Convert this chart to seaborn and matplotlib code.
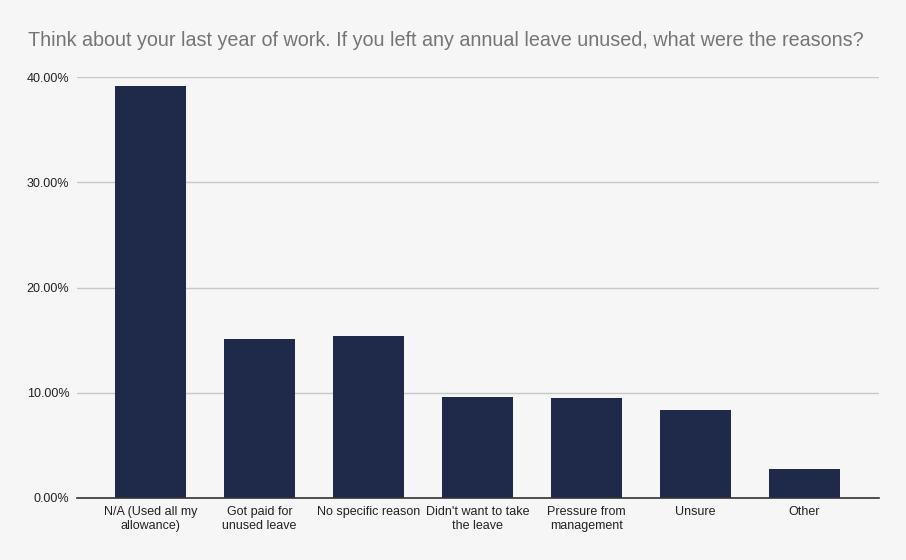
import matplotlib
matplotlib.use("Agg")
import matplotlib.pyplot as plt
import seaborn as sns
import pandas as pd
from matplotlib.ticker import PercentFormatter

categories = ["N/A (Used all my\nallowance)", "Got paid for\nunused leave", "No specific reason",
              "Didn't want to take\nthe leave", "Pressure from\nmanagement", "Unsure", "Other"]
values = [39.1, 15.1, 15.4, 9.6, 9.5, 8.35, 2.75]
yticks = [0, 10, 20, 30, 40]

bg = "#f5f6f5"
bar_color = "#1f2a4a"

sns.set_theme(style="white")
plt.rcParams['font.family'] = ['Liberation Sans', 'DejaVu Sans']

df = pd.DataFrame({"cat": categories, "val": values})

fig = plt.figure(figsize=(9.06, 5.60), dpi=100, facecolor=bg)
ax = fig.add_axes([77/906, 1-498/560, (878.7-77)/906, (498-77)/560])
ax.set_facecolor(bg)

sns.barplot(data=df, x="cat", y="val", color=bar_color, width=0.65, saturation=1,
            linewidth=0, edgecolor=bar_color, ax=ax, zorder=3)

ax.set_xlim(-0.674, 6.68)
ax.set_ylim(0, 40)
ax.set_yticks(yticks)
ax.yaxis.set_major_formatter(PercentFormatter(decimals=2))
ax.grid(axis="y", color="#c8c8c8", linewidth=1, zorder=0)
ax.set_axisbelow(True)
for s in ["top", "right", "left"]:
    ax.spines[s].set_visible(False)
ax.spines["bottom"].set_color("#333333")
ax.spines["bottom"].set_linewidth(1.2)
ax.spines["bottom"].set_zorder(4)
ax.tick_params(axis="both", length=0, labelsize=9, colors="#222222")
ax.tick_params(axis="x", pad=6)
ax.tick_params(axis="y", pad=5.5)
ax.set_xlabel("")
ax.set_ylabel("")
for lbl in ax.get_xticklabels():
    lbl.set_linespacing(1.15)

fig.text(28/906, 1-40/560, "Think about your last year of work. If you left any annual leave unused, what were the reasons?",
         fontsize=14.2, color="#757575", ha="left", va="center")

fig.savefig("out.png", dpi=100, facecolor=bg)
